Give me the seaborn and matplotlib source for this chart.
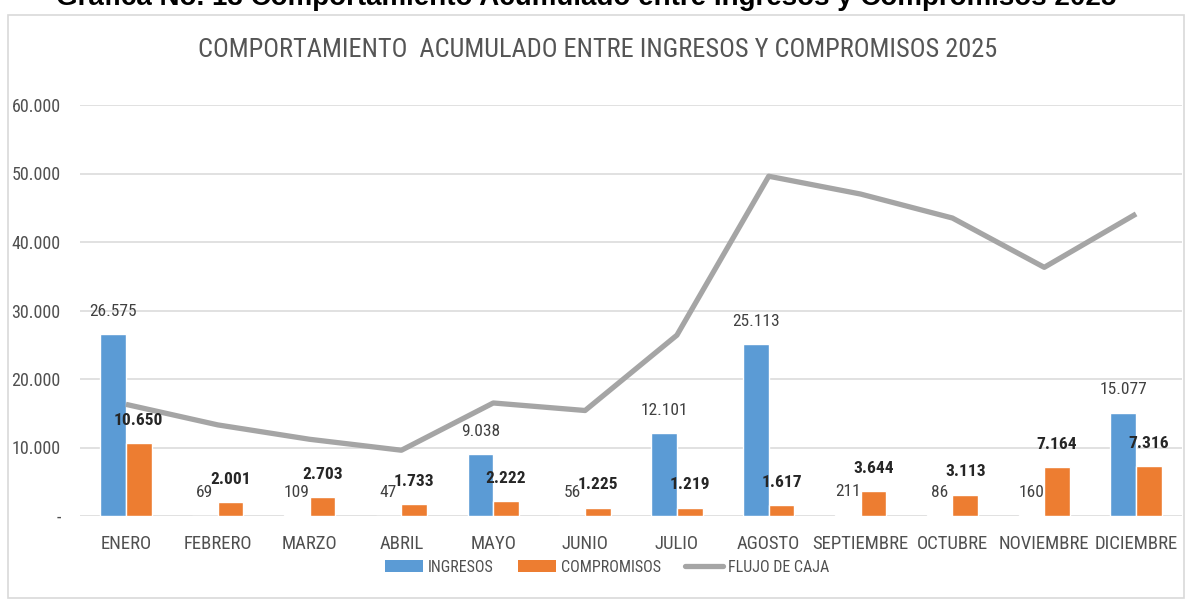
import matplotlib
matplotlib.use("Agg")
import matplotlib.pyplot as plt
import matplotlib.font_manager as fm
from matplotlib.patches import Patch, Rectangle
from matplotlib.lines import Line2D
from matplotlib.ticker import FuncFormatter, FixedLocator
import seaborn as sns
import pandas as pd

meses = ["ENERO", "FEBRERO", "MARZO", "ABRIL", "MAYO", "JUNIO", "JULIO",
         "AGOSTO", "SEPTIEMBRE", "OCTUBRE", "NOVIEMBRE", "DICIEMBRE"]
ingresos = [26575, 69, 109, 47, 9038, 56, 12101, 25113, 211, 86, 160, 15077]
compromisos = [10650, 2001, 2703, 1733, 2222, 1225, 1219, 1617, 3644, 3113, 7164, 7316]
flujo_caja = [16300, 13300, 11200, 9600, 16500, 15400, 26400, 49600, 47000, 43500, 36300, 44100]
series = ["INGRESOS", "COMPROMISOS"]
y_ticks = [0, 10000, 20000, 30000, 40000, 50000, 60000]

titulo = "COMPORTAMIENTO  ACUMULADO ENTRE INGRESOS Y COMPROMISOS 2025"
titulo_doc = "Gráfica No. 13 Comportamiento Acumulado entre Ingresos y Compromisos 2025"

C_BLUE = "#5B9BD5"
C_ORANGE = "#ED7D31"
C_GRAY = "#A5A5A5"
TXT = "#505050"

sns.set_theme(style="white")


def _w(w):
    if isinstance(w, (int, float)):
        return int(w)
    return fm.weight_dict.get(str(w).lower(), 400)


# pick a condensed/narrow sans font (regular weight) if one is installed
cand = []
for f in fm.fontManager.ttflist:
    low = (f.name + " " + f.fname).lower()
    if ("narrow" in low or "condensed" in low) and "mono" not in low \
            and "serif" not in low and "italic" not in low and "oblique" not in low:
        key_s = f.fname.lower().replace("-", "").replace("_", "").replace(" ", "")
        rank = 5
        for i, key in enumerate(["liberationsansnarrow", "robotocondensed",
                                 "opensans", "notosans", "dejavusans"]):
            if key in key_s:
                rank = i
                break
        cand.append((rank, abs(_w(f.weight) - 400), f.name, f.stretch))
cand.sort()
if cand:
    FAM, STRETCH = cand[0][2], cand[0][3]
    K = 1.0
else:
    FAM, STRETCH = "DejaVu Sans", "normal"
    K = 0.8
plt.rcParams["font.family"] = [FAM, "DejaVu Sans"]
plt.rcParams["font.stretch"] = STRETCH
plt.rcParams["font.weight"] = "normal"

df = pd.DataFrame({
    "mes": meses * 2,
    "serie": [series[0]] * len(meses) + [series[1]] * len(meses),
    "valor": ingresos + compromisos,
})
df_line = pd.DataFrame({"mes": meses, "flujo": flujo_caja})

fig = plt.figure(figsize=(11.87, 6.02), dpi=100)
ax = fig.add_axes([80 / 1187, 1 - 516 / 602, (1182 - 80) / 1187, (516 - 105) / 602])

sns.barplot(data=df, x="mes", y="valor", hue="serie", order=meses,
            hue_order=series, palette=[C_BLUE, C_ORANGE], width=0.56,
            gap=0, saturation=1, ax=ax, legend=False, zorder=2)
sns.lineplot(data=df_line, x="mes", y="flujo", color=C_GRAY, linewidth=3.8,
             sort=False, ax=ax, zorder=3, legend=False)
for ln in ax.lines:
    ln.set_solid_joinstyle("round")
    ln.set_solid_capstyle("butt")

ax.set_xlim(-0.5, len(meses) - 0.5)
ax.set_ylim(0, 60000)
ax.yaxis.set_major_locator(FixedLocator(y_ticks))
ax.yaxis.set_major_formatter(FuncFormatter(
    lambda v, p: "-" if v == 0 else f"{int(v):,}".replace(",", ".")))
ax.grid(axis="y", color="#D9D9D9", linewidth=1.1, zorder=0)
ax.set_axisbelow(True)
for s in ax.spines.values():
    s.set_visible(False)
ax.set_xlabel("")
ax.set_ylabel("")
ax.tick_params(axis="y", length=0, pad=14, labelsize=13 * K, labelcolor=TXT)
ax.tick_params(axis="x", length=0, pad=14, labelsize=13.5 * K, labelcolor=TXT)

fmt = lambda v: f"{int(v):,}".replace(",", ".")
ax.bar_label(ax.containers[0], labels=[fmt(v) for v in ingresos], padding=11,
             fontsize=12.5 * K, color="#404040")
ax.bar_label(ax.containers[1], labels=[fmt(v) for v in compromisos], padding=11,
             fontsize=12.5 * K, color="#262626", fontweight="bold")

fig.text(598 / 1187, 1 - 50 / 602, titulo, ha="center", va="center",
         fontsize=19 * K, color="#555555")
fig.text(586 / 1187, 1 - 5 / 602, titulo_doc, ha="center", va="baseline",
         fontsize=20, fontweight="bold", color="black",
         family=["Liberation Sans", "DejaVu Sans"], stretch="normal")

fig.patches.append(Rectangle((8 / 1187, 4 / 602), (1184 - 8) / 1187, (587 - 4) / 602,
                             transform=fig.transFigure, fill=False,
                             edgecolor="#D9D9D9", linewidth=1.2))

handles = [Patch(facecolor=C_BLUE, edgecolor="none"),
           Patch(facecolor=C_ORANGE, edgecolor="none"),
           Line2D([], [], color=C_GRAY, linewidth=3.8)]
fig.legend(handles, ["INGRESOS", "COMPROMISOS", "FLUJO DE CAJA"],
           loc="center", bbox_to_anchor=(607 / 1187, 1 - 567 / 602),
           ncol=3, frameon=False, fontsize=11.5 * K, labelcolor=TXT,
           handlelength=2.4, handleheight=0.8, handletextpad=0.3,
           columnspacing=1.5)

fig.savefig("out.png", dpi=100, facecolor="white")
